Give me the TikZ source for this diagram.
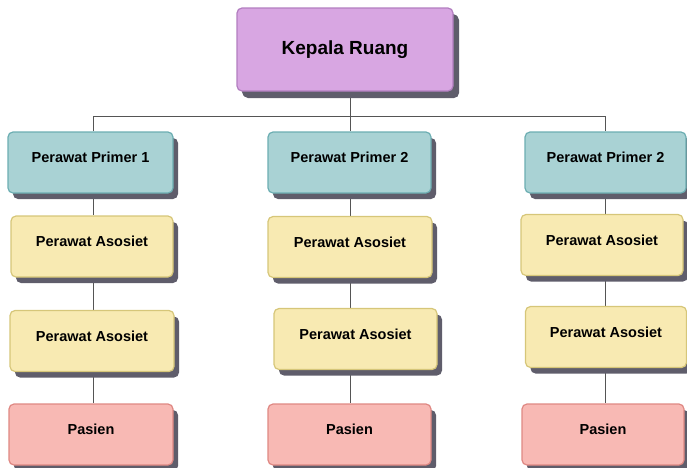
\documentclass[tikz,border=0pt]{standalone}
\usepackage{fontspec}
\setmainfont{Liberation Sans}
\usetikzlibrary{shadows,backgrounds}

\definecolor{shadowc}{HTML}{5F5D6B}
\definecolor{linec}{HTML}{555555}
\definecolor{headfill}{HTML}{D8A6E2}
\definecolor{headdraw}{HTML}{B27EC0}
\definecolor{primfill}{HTML}{A9D2D4}
\definecolor{primdraw}{HTML}{6CAEB2}
\definecolor{asofill}{HTML}{F8EAB2}
\definecolor{asodraw}{HTML}{D6C679}
\definecolor{pasfill}{HTML}{F8B9B4}
\definecolor{pasdraw}{HTML}{DF8883}

\tikzset{
  box/.style={rectangle, rounded corners=5pt, line width=1.2pt,
    minimum height=61pt, inner sep=0pt,
    font=\bfseries\fontsize{14.5}{16}\selectfont,
    text height=1.1ex, text depth=1.1ex,
    drop shadow={shadow xshift=5pt, shadow yshift=-6pt, fill=shadowc, opacity=1}},
  headbox/.style={box, fill=headfill, draw=headdraw,
    font=\bfseries\fontsize{19}{21}\selectfont, text height=, text depth=,
    drop shadow={shadow xshift=6pt, shadow yshift=-7pt, fill=shadowc, opacity=1}},
  primbox/.style={box, fill=primfill, draw=primdraw},
  asobox/.style={box, fill=asofill, draw=asodraw},
  pasbox/.style={box, fill=pasfill, draw=pasdraw},
  link/.style={draw=linec, line width=0.9pt}
}

\begin{document}
\begin{tikzpicture}[x=1pt, y=-1pt]
\useasboundingbox (0,0) rectangle (687,467);

% column axes for the connectors
\coordinate (col1) at (93,116);
\coordinate (col2) at (350,116);
\coordinate (col3) at (605,116);

% head
\node[headbox, minimum width=216pt, minimum height=83pt] (kr) at (345,49.5) {Kepala Ruang};

% primary nurses
\node[primbox, minimum width=165pt] (p1) at (90.5,162.5) {Perawat Primer 1};
\node[primbox, minimum width=163pt] (p2) at (349.5,162.5) {Perawat Primer 2};
\node[primbox, minimum width=161pt] (p3) at (605.5,162.5) {Perawat Primer 2};

% first associate row
\node[asobox, minimum width=162pt] (a11) at (92,246.5) {Perawat Asosiet};
\node[asobox, minimum width=164pt] (a12) at (350,247) {Perawat Asosiet};
\node[asobox, minimum width=162pt] (a13) at (602,245) {Perawat Asosiet};

% second associate row
\node[asobox, minimum width=164pt] (a21) at (92,341) {Perawat Asosiet};
\node[asobox, minimum width=163pt] (a22) at (355.5,339) {Perawat Asosiet};
\node[asobox, minimum width=161pt] (a23) at (606,337) {Perawat Asosiet};

% patients
\node[pasbox, minimum width=164pt] (s1) at (91,434.5) {Pasien};
\node[pasbox, minimum width=163pt] (s2) at (349.5,434.5) {Pasien};
\node[pasbox, minimum width=162pt] (s3) at (603,434.5) {Pasien};

% connectors, kept behind the boxes and their shadows
\begin{scope}[on background layer]
\path[link] (kr.south -| col2) -- (col2);
\path[link] (p1.north -| col1) -- (col1) -- (col3) -- (p3.north -| col3);
\path[link] (col2) -- (p2.north -| col2);

\path[link] (p1.south -| col1) -- (a11.north -| col1);
\path[link] (a11.south -| col1) -- (a21.north -| col1);
\path[link] (a21.south -| col1) -- (s1.north -| col1);

\path[link] (p2.south -| col2) -- (a12.north -| col2);
\path[link] (a12.south -| col2) -- (a22.north -| col2);
\path[link] (a22.south -| col2) -- (s2.north -| col2);

\path[link] (p3.south -| col3) -- (a13.north -| col3);
\path[link] (a13.south -| col3) -- (a23.north -| col3);
\path[link] (a23.south -| col3) -- (s3.north -| col3);
\end{scope}
\end{tikzpicture}
\end{document}
